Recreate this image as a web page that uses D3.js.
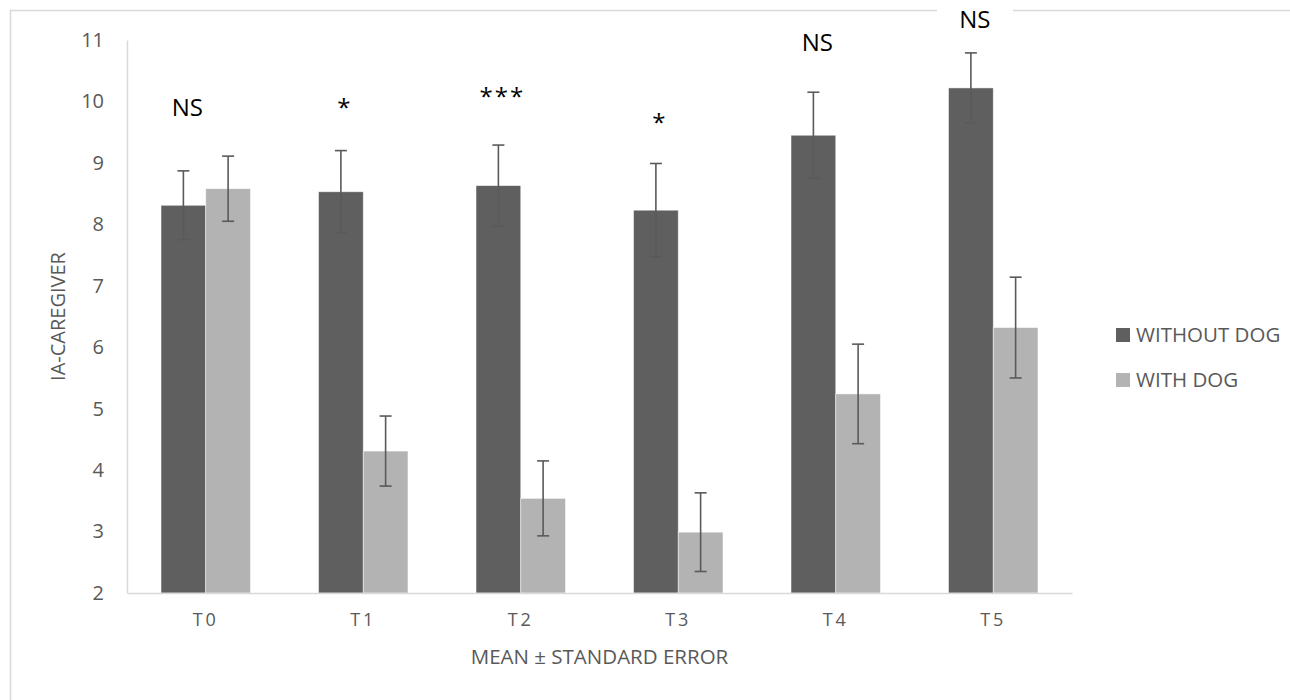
<!DOCTYPE html>
<html>
<head>
<meta charset="utf-8">
<script src="https://cdn.jsdelivr.net/npm/d3@7"></script>
<style>
  body { margin: 0; background: #fff; }
  text { font-family: "Open Sans", sans-serif; }
</style>
</head>
<body>
<div id="wrapper"></div>
<script>
// data
const categories = ["T0", "T1", "T2", "T3", "T4", "T5"];
const seriesNames = ["WITHOUT DOG", "WITH DOG"];
const withoutDog = [8.31, 8.53, 8.63, 8.23, 9.45, 10.22];
const withoutDogSE = [0.56, 0.67, 0.66, 0.76, 0.70, 0.57];
const withDog = [8.58, 4.31, 3.54, 2.99, 5.24, 6.32];
const withDogSE = [0.53, 0.57, 0.61, 0.64, 0.81, 0.82];
const yTicks = [2, 3, 4, 5, 6, 7, 8, 9, 10, 11];
const annotations = ["NS", "*", "***", "*", "NS", "NS"];
const annotationLevel = [9.77, 9.76, 9.95, 9.52, 10.82, 11.2];

const colors = ["#5f5f5f", "#b3b3b3"];

dimensions = {
  width: 1290,
  height: 700,
  margin: {top: 40, left: 127, bottom: 107, right: 218}
}
dimensions.boundedWidth = dimensions.width - dimensions.margin.left - dimensions.margin.right;
dimensions.boundedHeight = dimensions.height - dimensions.margin.top - dimensions.margin.bottom;

const wrapper = d3.select("#wrapper").append("svg")
  .attr("width", dimensions.width)
  .attr("height", dimensions.height);

// outer chart border
wrapper.append("rect")
  .attr("x", 10.5).attr("y", 10.5)
  .attr("width", dimensions.width + 20).attr("height", dimensions.height + 20)
  .attr("fill", "#fff").attr("stroke", "#d9d9d9").attr("stroke-width", 1.5);

const container = wrapper.append("g")
  .attr("transform", `translate(${dimensions.margin.left}, ${dimensions.margin.top})`);

const xScale = d3.scaleBand()
  .domain(categories)
  .range([0, dimensions.boundedWidth])
  .paddingInner(0.432)
  .paddingOuter(0.216);

const xSub = d3.scaleBand()
  .domain(seriesNames)
  .range([0, xScale.bandwidth()]);

const yScale = d3.scaleLinear()
  .domain([2, 11])
  .range([dimensions.boundedHeight, 0]);

const rows = categories.map((c, i) => ({
  cat: c,
  vals: [
    {s: seriesNames[0], v: withoutDog[i], se: withoutDogSE[i], color: colors[0]},
    {s: seriesNames[1], v: withDog[i], se: withDogSE[i], color: colors[1]}
  ]
}));

// y axis
const yAxis = container.append("g")
  .call(d3.axisLeft(yScale).tickValues(yTicks).tickSize(0).tickPadding(23));
yAxis.select(".domain").attr("stroke", "#d9d9d9").attr("stroke-width", 1.5);
yAxis.selectAll("text").attr("fill", "#595959").style("font-size", "20px");

// bars
const groups = container.selectAll(".group")
  .data(rows)
  .enter()
  .append("g")
  .attr("class", "group")
  .attr("transform", d => `translate(${xScale(d.cat)}, 0)`);

groups.selectAll("rect")
  .data(d => d.vals)
  .enter()
  .append("rect")
  .attr("x", d => xSub(d.s))
  .attr("y", d => yScale(d.v))
  .attr("width", xSub.bandwidth())
  .attr("height", d => yScale(2) - yScale(d.v))
  .attr("fill", d => d.color)
  .attr("stroke", "#ffffff")
  .attr("stroke-opacity", 0.6)
  .attr("stroke-width", 0.8);

// error bars
const err = groups.selectAll(".err")
  .data(d => d.vals)
  .enter()
  .append("g")
  .attr("class", "err")
  .attr("stroke", "#5a5a5a")
  .attr("stroke-width", 1.6);
const cx = d => xSub(d.s) + xSub.bandwidth() / 2;
err.append("line")
  .attr("x1", cx).attr("x2", cx)
  .attr("y1", d => yScale(d.v + d.se)).attr("y2", d => yScale(d.v - d.se));
err.append("line")
  .attr("x1", d => cx(d) - 6).attr("x2", d => cx(d) + 6)
  .attr("y1", d => yScale(d.v + d.se)).attr("y2", d => yScale(d.v + d.se));
err.append("line")
  .attr("x1", d => cx(d) - 6).attr("x2", d => cx(d) + 6)
  .attr("y1", d => yScale(d.v - d.se)).attr("y2", d => yScale(d.v - d.se));

// x axis
const xAxis = container.append("g")
  .attr("transform", `translate(0, ${dimensions.boundedHeight})`)
  .call(d3.axisBottom(xScale).tickSize(0).tickPadding(20));
xAxis.select(".domain").attr("stroke", "#d9d9d9").attr("stroke-width", 1.5);
xAxis.selectAll("text")
  .attr("fill", "#595959")
  .style("font-size", "18px")
  .style("letter-spacing", "3px");

// significance labels
const ann = container.selectAll(".ann")
  .data(categories)
  .enter()
  .append("g")
  .attr("class", "ann")
  .attr("transform", (c, i) => `translate(${xScale(c) + xSub(seriesNames[0]) + xSub.bandwidth() / 2 + 4}, ${yScale(annotationLevel[i])})`);
ann.append("rect")
  .attr("x", -38).attr("y", -28).attr("width", 76).attr("height", 36)
  .attr("fill", "#fff")
  .attr("opacity", (c, i) => annotationLevel[i] > 11 ? 1 : 0);
ann.append("text")
  .attr("text-anchor", "middle")
  .attr("fill", "#000")
  .style("font-size", "24px")
  .style("letter-spacing", (c, i) => annotations[i] === "NS" ? "0px" : "2px")
  .text((c, i) => annotations[i]);

// axis titles
container.append("text")
  .attr("x", dimensions.boundedWidth / 2)
  .attr("y", dimensions.boundedHeight + 71)
  .attr("text-anchor", "middle")
  .attr("fill", "#595959")
  .style("font-size", "20.5px")
  .text("MEAN ± STANDARD ERROR");

container.append("text")
  .attr("transform", `translate(-62, ${dimensions.boundedHeight / 2}) rotate(-90)`)
  .attr("text-anchor", "middle")
  .attr("fill", "#595959")
  .style("font-size", "20px")
  .text("IA-CAREGIVER");

// legend
const legend = wrapper.append("g")
  .attr("transform", "translate(1116, 328)");
const li = legend.selectAll(".li")
  .data(seriesNames)
  .enter()
  .append("g")
  .attr("class", "li")
  .attr("transform", (d, i) => `translate(0, ${i * 45})`);
li.append("rect")
  .attr("width", 14).attr("height", 14)
  .attr("fill", (d, i) => colors[i]);
li.append("text")
  .attr("x", 20).attr("y", 14)
  .attr("fill", "#595959")
  .style("font-size", "20.5px")
  .text(d => d);
</script>
</body>
</html>
